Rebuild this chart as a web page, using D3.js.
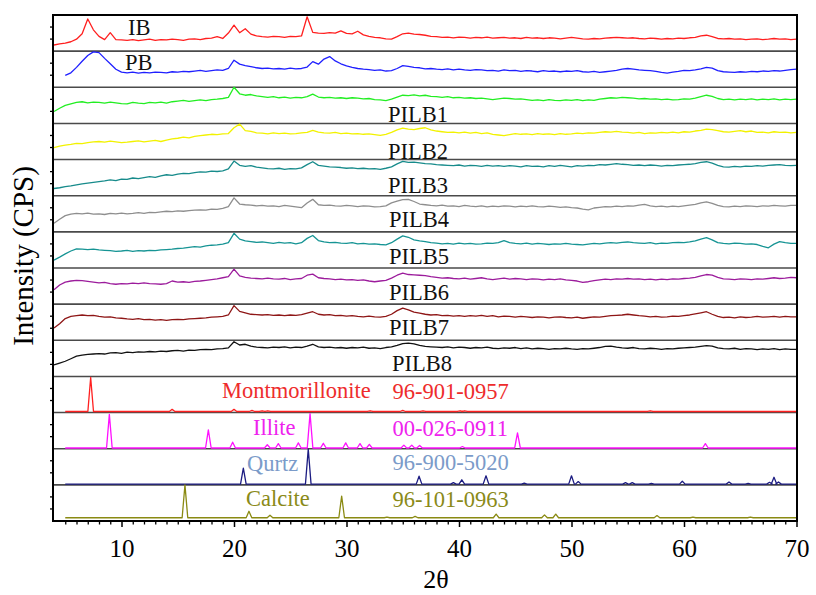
<!DOCTYPE html>
<html>
<head>
<meta charset="utf-8">
<script src="https://cdn.jsdelivr.net/npm/d3@7/dist/d3.min.js"></script>
<style>
  body { margin: 0; background: #fff; }
  svg { display: block; }
  text { font-family: "Liberation Serif", "Times New Roman", serif; }
</style>
</head>
<body>
<svg id="chart" width="816" height="595"></svg>
<script>
// ---------- data ----------
// 2θ sampling grid of the measured patterns (degrees)
const twoTheta = d3.range(4, 70.001, 0.5);

// Normalised intensities (0–100 of each strip) for the measured samples
const IB = [17,20,22,26,33,48,89,59,41,32,51,32,
  31,30,32,29,31,33,30,32,31,33,32,30,33,34,32,35,36,40,35,50,
  72,51,62,47,42,40,39,41,40,38,41,40,42,95,52,50,49,51,50,56,
  49,48,55,45,41,38,37,34,33,40,48,50,47,46,44,41,40,38,39,37,
  39,38,36,38,37,39,36,37,38,36,37,35,38,36,37,35,37,36,34,36,
  38,36,34,33,35,34,36,37,38,37,36,37,35,34,36,35,33,35,34,36,
  35,37,38,42,44,40,35,34,35,33,34,32,33,34,32,33,35,33,34,32,
  33];
const PB = [null,null,33,40,55,72,88,98,96,80,65,50,
  42,40,42,39,41,40,42,41,40,43,42,44,43,45,47,44,46,48,47,52,
  75,64,60,57,54,52,53,51,52,50,53,51,52,56,71,64,78,85,73,65,
  59,55,52,50,49,47,48,45,46,52,60,58,55,54,51,52,50,49,51,48,
  50,48,47,49,48,46,47,45,48,46,47,44,46,45,43,46,44,45,43,45,
  44,46,43,42,44,41,43,45,47,50,52,50,48,47,46,44,41,39,42,44,
  47,46,48,51,55,53,46,43,42,41,43,42,44,43,45,44,46,45,47,49,
  50];
const PILB1 = [33,42,50,54,58,60,57,59,58,56,59,57,
  55,54,58,56,55,58,57,59,56,60,62,64,61,63,65,63,66,67,69,72,
  100,82,78,80,76,74,72,74,71,73,70,72,71,74,81,73,71,72,70,71,
  69,71,70,68,69,66,65,63,67,73,78,77,79,76,78,75,74,72,74,71,
  72,70,71,69,70,68,66,68,70,69,67,68,66,64,65,63,66,64,63,65,
  64,66,63,65,64,67,69,71,70,72,71,70,68,69,67,68,66,67,65,66,
  68,67,70,74,78,75,69,66,67,65,67,66,68,65,67,66,68,65,67,66,
  67];
const PILB2 = [33,37,40,42,45,44,47,49,50,48,51,49,
  47,48,50,52,49,51,53,50,54,57,59,62,60,64,66,68,70,69,71,72,
  88,98,80,78,74,73,71,74,72,73,71,72,74,75,81,76,74,73,75,72,
  73,71,72,70,71,69,67,70,75,82,87,84,83,86,88,82,79,77,75,76,
  74,76,73,75,72,74,70,68,66,69,72,70,71,69,72,70,71,69,72,70,
  71,73,72,74,73,75,77,76,78,76,75,73,75,72,74,73,75,74,76,74,
  77,76,79,81,84,83,80,77,76,78,80,77,79,75,76,74,77,75,76,74,
  75];
const PILB3 = [20,22,25,27,30,33,35,37,39,41,44,42,
  46,45,49,47,50,53,51,55,58,56,60,62,61,64,66,65,68,67,69,74,
  96,84,81,83,79,77,75,74,76,73,75,74,77,86,94,84,82,80,79,78,
  76,77,75,76,74,75,73,76,80,88,95,92,93,91,89,88,86,85,84,83,
  85,82,84,83,81,84,82,83,81,83,82,80,83,81,82,80,83,81,84,82,
  80,83,82,84,83,86,85,87,89,87,86,84,85,83,85,84,82,84,83,85,
  86,87,89,92,94,90,84,80,79,81,80,82,81,83,82,84,85,86,84,83,
  84];
const PILB4 = [24,35,45,49,51,50,52,49,50,48,51,50,
  52,50,51,53,51,54,53,55,57,56,58,57,59,60,61,60,63,62,65,70,
  94,77,75,74,72,73,71,72,70,73,71,69,67,80,90,75,73,74,72,71,
  73,72,70,72,71,69,70,72,80,85,89,90,84,77,75,73,72,74,71,72,
  70,73,71,70,72,69,71,70,72,71,69,71,70,72,70,69,71,70,68,69,
  67,66,63,61,66,68,70,69,71,70,72,71,74,76,72,70,71,69,71,70,
  72,74,76,80,83,79,73,70,69,71,70,72,71,70,72,71,73,72,71,73,
  73];
const PILB5 = [22,30,39,47,53,52,51,52,50,49,48,46,
  47,49,46,48,47,49,48,50,51,52,54,55,57,59,58,61,63,64,66,70,
  96,80,75,73,71,72,70,68,71,69,70,67,70,82,90,76,72,70,71,69,
  68,70,67,68,66,67,65,64,70,80,89,85,78,75,73,70,69,67,68,66,
  69,67,68,66,67,69,68,70,76,70,68,67,69,66,68,67,65,67,66,68,
  66,65,64,66,68,67,69,70,69,71,72,70,69,68,70,67,69,68,70,71,
  70,72,75,80,84,78,70,68,67,69,68,66,67,65,60,56,66,73,70,68,
  68];
const PILB6 = [40,53,61,64,66,65,63,61,59,60,57,55,
  57,56,58,57,59,57,56,55,57,64,61,62,60,63,64,66,68,70,73,76,
  97,78,74,72,71,70,72,70,69,71,68,70,71,80,83,73,71,70,68,69,
  67,68,66,67,64,62,64,66,72,80,86,82,81,80,79,76,74,72,73,71,
  70,72,69,71,73,70,68,70,72,69,71,70,68,70,69,67,69,68,70,67,
  66,64,60,62,65,67,69,68,70,69,71,69,70,68,69,67,69,68,70,69,
  71,72,74,78,82,80,74,70,69,68,70,69,68,70,69,71,73,71,72,74,
  73];
const PILB7 = [34,46,60,66,68,70,68,69,66,64,65,62,
  61,59,58,60,57,58,56,57,55,57,58,57,59,60,61,62,64,65,66,70,
  96,80,76,72,71,70,71,69,70,68,70,69,71,75,79,72,70,71,68,69,
  67,68,66,65,67,65,64,66,72,82,89,84,78,75,72,70,71,68,69,67,
  68,66,68,67,69,66,68,65,67,66,64,66,65,63,65,64,62,64,65,63,
  62,64,61,63,65,64,66,68,69,70,72,70,68,67,65,66,64,65,67,66,
  68,70,73,76,79,72,66,63,64,62,65,63,64,66,64,65,66,64,66,65,
  65];
const PILB8 = [32,37,42,49,56,59,61,62,63,62,65,66,
  64,67,66,68,67,69,68,70,69,71,72,70,73,72,74,75,74,76,77,79,
  96,87,89,84,81,80,79,81,80,82,79,81,80,84,89,82,80,81,79,80,
  78,80,79,81,78,79,77,80,82,86,91,92,90,86,83,82,81,80,82,79,
  81,80,78,80,79,81,78,77,79,78,80,77,79,76,78,77,75,77,76,78,
  76,75,77,76,78,80,83,84,81,79,78,80,77,76,78,77,75,77,76,78,
  79,80,81,83,85,84,79,77,76,78,75,77,76,74,76,75,77,74,76,75,
  75];

const sampleNames = ["IB","PB","PILB1","PILB2","PILB3","PILB4","PILB5","PILB6","PILB7","PILB8"];
const sampleSeries = [IB, PB, PILB1, PILB2, PILB3, PILB4, PILB5, PILB6, PILB7, PILB8];

// Reference cards: [2θ, peak top] (same 0–100 strip units) and background level
const refNames = ["Montmorillonite","Illite","Qurtz","Calcite"];
const refCodes = ["96-901-0957","00-026-0911","96-900-5020","96-101-0963"];
const refBackground = [3, 2, 2, 9];
const montmorillonitePeaks = [[7.26,97],[14.5,9],[20.0,9],[21.6,6],[22.5,5],[23.0,5],[32.1,5],
  [35.0,6],[36.8,5],[40.1,5],[40.5,5],[57.0,5]];
const illitePeaks = [[8.92,95],[17.72,52],[19.88,18],[22.96,11],[23.94,14],[25.72,16],[26.76,97],
  [27.94,15],[29.93,16],[31.2,14],[32.03,12],[35.1,10],[35.8,10],[36.5,9],[40.3,6],[45.2,44],[61.9,14]];
const quartzPeaks = [[20.83,46],[26.6,99],[36.45,24],[39.5,6],[40.25,14],[42.4,25],[45.8,5],[50.0,25],
  [50.6,9],[54.8,6],[55.4,6],[57.1,4],[59.85,10],[64.0,8],[65.7,4],[67.6,7],[68.0,21],[68.4,8]];
const calcitePeaks = [[15.64,100],[21.33,27],[23.2,16],[29.57,69],[33.6,11],[36.1,13],[43.3,19],
  [47.6,17],[48.6,19],[57.6,15],[60.8,11],[65.9,11]];
const refPeaks = [montmorillonitePeaks, illitePeaks, quartzPeaks, calcitePeaks];

const xTicks = [10, 20, 30, 40, 50, 60, 70];

// ---------- styles / layout ----------
const sampleColors = ["#ff1f1f","#1f1fff","#22ee22","#f2f200","#178b8b","#8e8e8e","#169494","#9c1c9c","#8e1616","#111111"];
const refLineColors = ["#ff2020","#ff10ff","#1c1c82","#8a8a12"];
const refTextColors = ["#ee2c2c","#ee22ee","#7b9bc9","#8a8a18"];
const sampleLabelPos = [[128,35],[125,70],[388,122],[388,159],[388,192.5],[389,226.5],[389,264],[389,300],[389,335],[392,370.5]];
const refLabelPos = [[222,397.5],[253,435],[247,471],[246,506]];
const refCodePos = [[392.5,399],[392.5,436],[392.5,470],[392.5,506.5]];

const L = 53, R = 797, T = 15, B = 521;
const svg = d3.select("#chart");

const x = d3.scaleLinear().domain([4, 70]).range([54, 796.5]);
const nPanels = sampleSeries.length + refPeaks.length;
const band = d3.scaleBand().domain(d3.range(nPanels)).range([T, B]).padding(0);
const bw = band.bandwidth();
const yFor = i => d3.scaleLinear().domain([0, 100]).range([band(i) + bw, band(i)]);

// panel separators
svg.append("g").selectAll("line")
  .data(d3.range(1, nPanels))
  .join("line")
  .attr("x1", L).attr("x2", R)
  .attr("y1", i => band(i)).attr("y2", i => band(i))
  .attr("stroke", "#4a4a4a").attr("stroke-width", 1.6);

// small left ticks, two per strip
const leftTicks = [];
d3.range(nPanels).forEach(i => { leftTicks.push(band(i) + bw / 3, band(i) + 2 * bw / 3); });
svg.append("g").selectAll("line")
  .data(leftTicks)
  .join("line")
  .attr("x1", L - 3).attr("x2", L)
  .attr("y1", d => d).attr("y2", d => d)
  .attr("stroke", "#000").attr("stroke-width", 1.3);

// measured patterns
sampleSeries.forEach((vals, i) => {
  const y = yFor(i);
  const line = d3.line()
    .defined(d => d[1] !== null)
    .x(d => x(d[0])).y(d => y(d[1]));
  svg.append("path")
    .datum(twoTheta.map((t, k) => [t, vals[k]]))
    .attr("d", line)
    .attr("fill", "none")
    .attr("stroke", sampleColors[i])
    .attr("stroke-width", 1.3)
    .attr("stroke-linejoin", "round");
  svg.append("text")
    .attr("x", sampleLabelPos[i][0]).attr("y", sampleLabelPos[i][1])
    .attr("font-size", 22.5).attr("fill", "#111")
    .text(sampleNames[i]);
});

// reference cards: stick patterns drawn as narrow peaks on the background level
refPeaks.forEach((peaks, r) => {
  const i = sampleSeries.length + r;
  const y = yFor(i);
  const base = refBackground[r];
  const hw = 0.25;
  const pts = [[5, base]];
  peaks.forEach(([p, h]) => { pts.push([p - hw, base], [p, h], [p + hw, base]); });
  pts.push([70, base]);
  svg.append("path")
    .datum(pts)
    .attr("d", d3.line().x(d => x(d[0])).y(d => y(d[1])))
    .attr("fill", "none")
    .attr("stroke", refLineColors[r])
    .attr("stroke-width", 1.3)
    .attr("stroke-linejoin", "round");
  svg.append("text")
    .attr("x", refLabelPos[r][0]).attr("y", refLabelPos[r][1])
    .attr("font-size", 22.5).attr("fill", refTextColors[r])
    .text(refNames[r]);
  svg.append("text")
    .attr("x", refCodePos[r][0]).attr("y", refCodePos[r][1])
    .attr("font-size", 22.5).attr("fill", refTextColors[r])
    .text(refCodes[r]);
});

// frame
svg.append("rect")
  .attr("x", L).attr("y", T).attr("width", R - L).attr("height", B - T)
  .attr("fill", "none").attr("stroke", "#000").attr("stroke-width", 2);

// bottom axis: major ticks with labels, minor ticks every degree
const xAxis = d3.axisBottom(x).tickValues(xTicks).tickSize(6).tickPadding(12).tickFormat(d3.format("d"));
const gx = svg.append("g").attr("transform", `translate(0,${B})`).call(xAxis);
gx.select(".domain").remove();
gx.selectAll(".tick line").attr("stroke", "#000").attr("stroke-width", 1.5);
gx.selectAll(".tick text")
  .attr("font-family", "'Liberation Serif', 'Times New Roman', serif")
  .attr("font-size", 25).attr("fill", "#000");

const minor = d3.range(5, 70).filter(v => v % 10 !== 0);
const gm = svg.append("g").attr("transform", `translate(0,${B})`)
  .call(d3.axisBottom(x).tickValues(minor).tickSize(3.5).tickFormat(""));
gm.select(".domain").remove();
gm.selectAll(".tick line").attr("stroke", "#000").attr("stroke-width", 1.3);

// axis titles
svg.append("text")
  .attr("x", 436).attr("y", 588)
  .attr("text-anchor", "middle").attr("font-size", 26).attr("fill", "#000")
  .text("2θ");
svg.append("text")
  .attr("transform", "translate(33,256) rotate(-90)")
  .attr("text-anchor", "middle").attr("font-size", 29).attr("fill", "#000")
  .text("Intensity (CPS)");
</script>
</body>
</html>
